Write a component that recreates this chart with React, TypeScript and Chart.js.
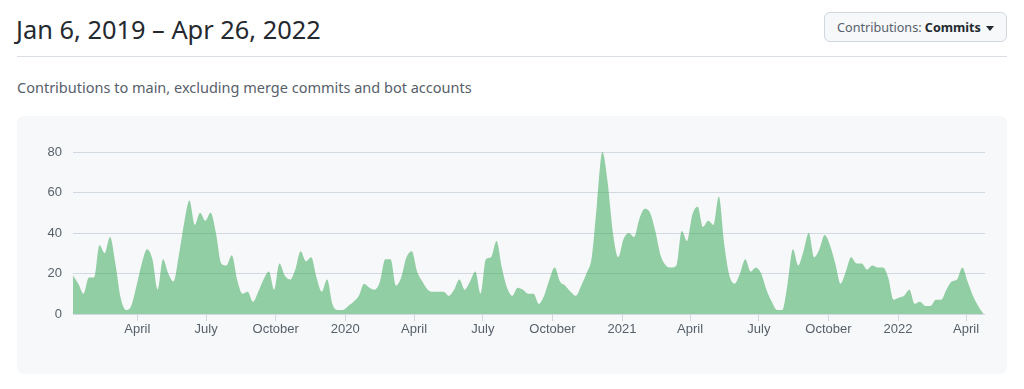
import React, { useEffect, useRef } from "react";
import { Chart, registerables } from "chart.js";

Chart.register(...registerables);

const firstWeek = "2019-01-06";
const weeklyCommits = [
  19, 15, 10, 18, 18, 34, 30, 38, 25, 8,
  2, 4, 14, 25, 32, 27, 12, 27, 20, 16,
  29, 45, 56, 44, 50, 46, 50, 40, 25, 24,
  29, 17, 10, 11, 6, 11, 17, 21, 12, 25,
  19, 17, 22, 31, 26, 28, 18, 11, 17, 5,
  2, 2, 4, 6, 9, 15, 13, 12, 16, 27,
  27, 14, 18, 28, 31, 21, 16, 12, 11, 11,
  11, 9, 12, 17, 12, 16, 21, 10, 27, 28,
  36, 23, 13, 9, 13, 12, 10, 10, 5, 9,
  17, 23, 16, 14, 11, 9, 14, 20, 28, 55,
  80, 65, 40, 28, 37, 40, 38, 47, 52, 50,
  41, 29, 24, 23, 24, 41, 36, 49, 53, 43,
  46, 44, 58, 35, 19, 15, 20, 27, 21, 23,
  20, 12, 6, 2, 2, 15, 32, 24, 31, 40,
  28, 32, 39, 34, 25, 15, 21, 28, 25, 25,
  22, 24, 23, 23, 18, 7, 8, 9, 12, 5,
  6, 4, 4, 7, 7, 12, 16, 17, 23, 16,
  9, 4, 0,
];
const lastDay = "2022-04-26";
const tickDates = [
  "2019-04-01", "2019-07-01", "2019-10-01", "2020-01-01",
  "2020-04-01", "2020-07-01", "2020-10-01", "2021-01-01",
  "2021-04-01", "2021-07-01", "2021-10-01", "2022-01-01",
  "2022-04-01",
];
const tickLabels = [
  "April", "July", "October", "2020",
  "April", "July", "October", "2021",
  "April", "July", "October", "2022",
  "April",
];
const yTicks = [0, 20, 40, 60, 80];

const DAY = 86400000;
const dayOffset = (d: string) =>
  Math.round((Date.parse(d + "T00:00:00Z") - Date.parse(firstWeek + "T00:00:00Z")) / DAY);

export default function App() {
  const ref = useRef<HTMLCanvasElement | null>(null);

  useEffect(() => {
    if (!ref.current) return;
    const points = weeklyCommits.map((v, i) => ({ x: i * 7, y: v }));
    const tickDays = tickDates.map(dayOffset);
    const tickFont = { family: "'Liberation Sans', Arial, sans-serif", size: 13 };
    const chart = new Chart(ref.current, {
      type: "line",
      data: {
        datasets: [
          {
            data: points,
            fill: "origin",
            backgroundColor: "rgba(45,164,78,0.5)",
            borderWidth: 0,
            borderColor: "rgba(45,164,78,0)",
            pointRadius: 0,
            cubicInterpolationMode: "monotone",
          },
        ],
      },
      options: {
        animation: false,
        responsive: true,
        maintainAspectRatio: false,
        layout: { padding: { top: 36, right: 22, bottom: 30, left: 0 } },
        plugins: { legend: { display: false }, tooltip: { enabled: false } },
        scales: {
          x: {
            type: "linear",
            min: 0,
            max: dayOffset(lastDay),
            afterBuildTicks: (s: any) => {
              s.ticks = tickDays.map((v) => ({ value: v }));
            },
            afterFit: (s: any) => {
              s.height = 30;
            },
            ticks: {
              autoSkip: false,
              maxRotation: 0,
              padding: 1,
              color: "#57606a",
              font: tickFont,
              callback: (_v: any, i: number) => tickLabels[i],
            },
            grid: {
              drawOnChartArea: false,
              drawTicks: true,
              tickLength: 7,
              color: "#d0d7de",
            },
            border: { display: false },
          },
          y: {
            min: 0,
            max: 80,
            afterBuildTicks: (s: any) => {
              s.ticks = yTicks.map((v) => ({ value: v }));
            },
            afterFit: (s: any) => {
              s.width = 56;
            },
            ticks: {
              padding: 11,
              color: "#57606a",
              font: tickFont,
            },
            grid: { color: "#d3d9e0", drawTicks: false, lineWidth: 1 },
            border: { display: false },
          },
        },
      },
    } as any);
    return () => chart.destroy();
  }, []);

  const font = "'Noto Sans', 'Open Sans', sans-serif";
  return (
    <div
      style={{
        position: "absolute",
        left: 0,
        top: 0,
        width: 1024,
        height: 389,
        background: "#ffffff",
        overflow: "hidden",
        fontFamily: font,
        color: "#24292f",
      }}
    >
      <div
        style={{
          position: "absolute",
          left: 16,
          top: 10,
          fontSize: 25.4,
          lineHeight: "38px",
          whiteSpace: "nowrap",
        }}
      >
        Jan 6, 2019 – Apr 26, 2022
      </div>
      <div
        style={{
          position: "absolute",
          left: 824,
          top: 12,
          width: 181,
          height: 28,
          border: "1px solid #d0d7de",
          borderRadius: 6,
          background: "#f6f8fa",
          fontSize: 12.6,
          lineHeight: "29px",
          textAlign: "center",
          whiteSpace: "nowrap",
        }}
      >
        <span style={{ color: "#57606a" }}>Contributions: </span>
        <span style={{ fontWeight: 700, color: "#24292f" }}>Commits</span>
        <span
          style={{
            display: "inline-block",
            marginLeft: 5,
            width: 0,
            height: 0,
            borderLeft: "4px solid transparent",
            borderRight: "4px solid transparent",
            borderTop: "5px solid #24292f",
            verticalAlign: "middle",
          }}
        />
      </div>
      <div
        style={{
          position: "absolute",
          left: 17,
          top: 56,
          width: 990,
          height: 1,
          background: "#d8dee4",
        }}
      />
      <div
        style={{
          position: "absolute",
          left: 17,
          top: 77,
          fontSize: 14.5,
          lineHeight: "20px",
          color: "#57606a",
          whiteSpace: "nowrap",
        }}
      >
        Contributions to main, excluding merge commits and bot accounts
      </div>
      <div
        style={{
          position: "absolute",
          left: 17,
          top: 116,
          width: 990,
          height: 258,
          background: "#f6f8fa",
          borderRadius: 6,
        }}
      >
        <canvas ref={ref} />
      </div>
    </div>
  );
}
